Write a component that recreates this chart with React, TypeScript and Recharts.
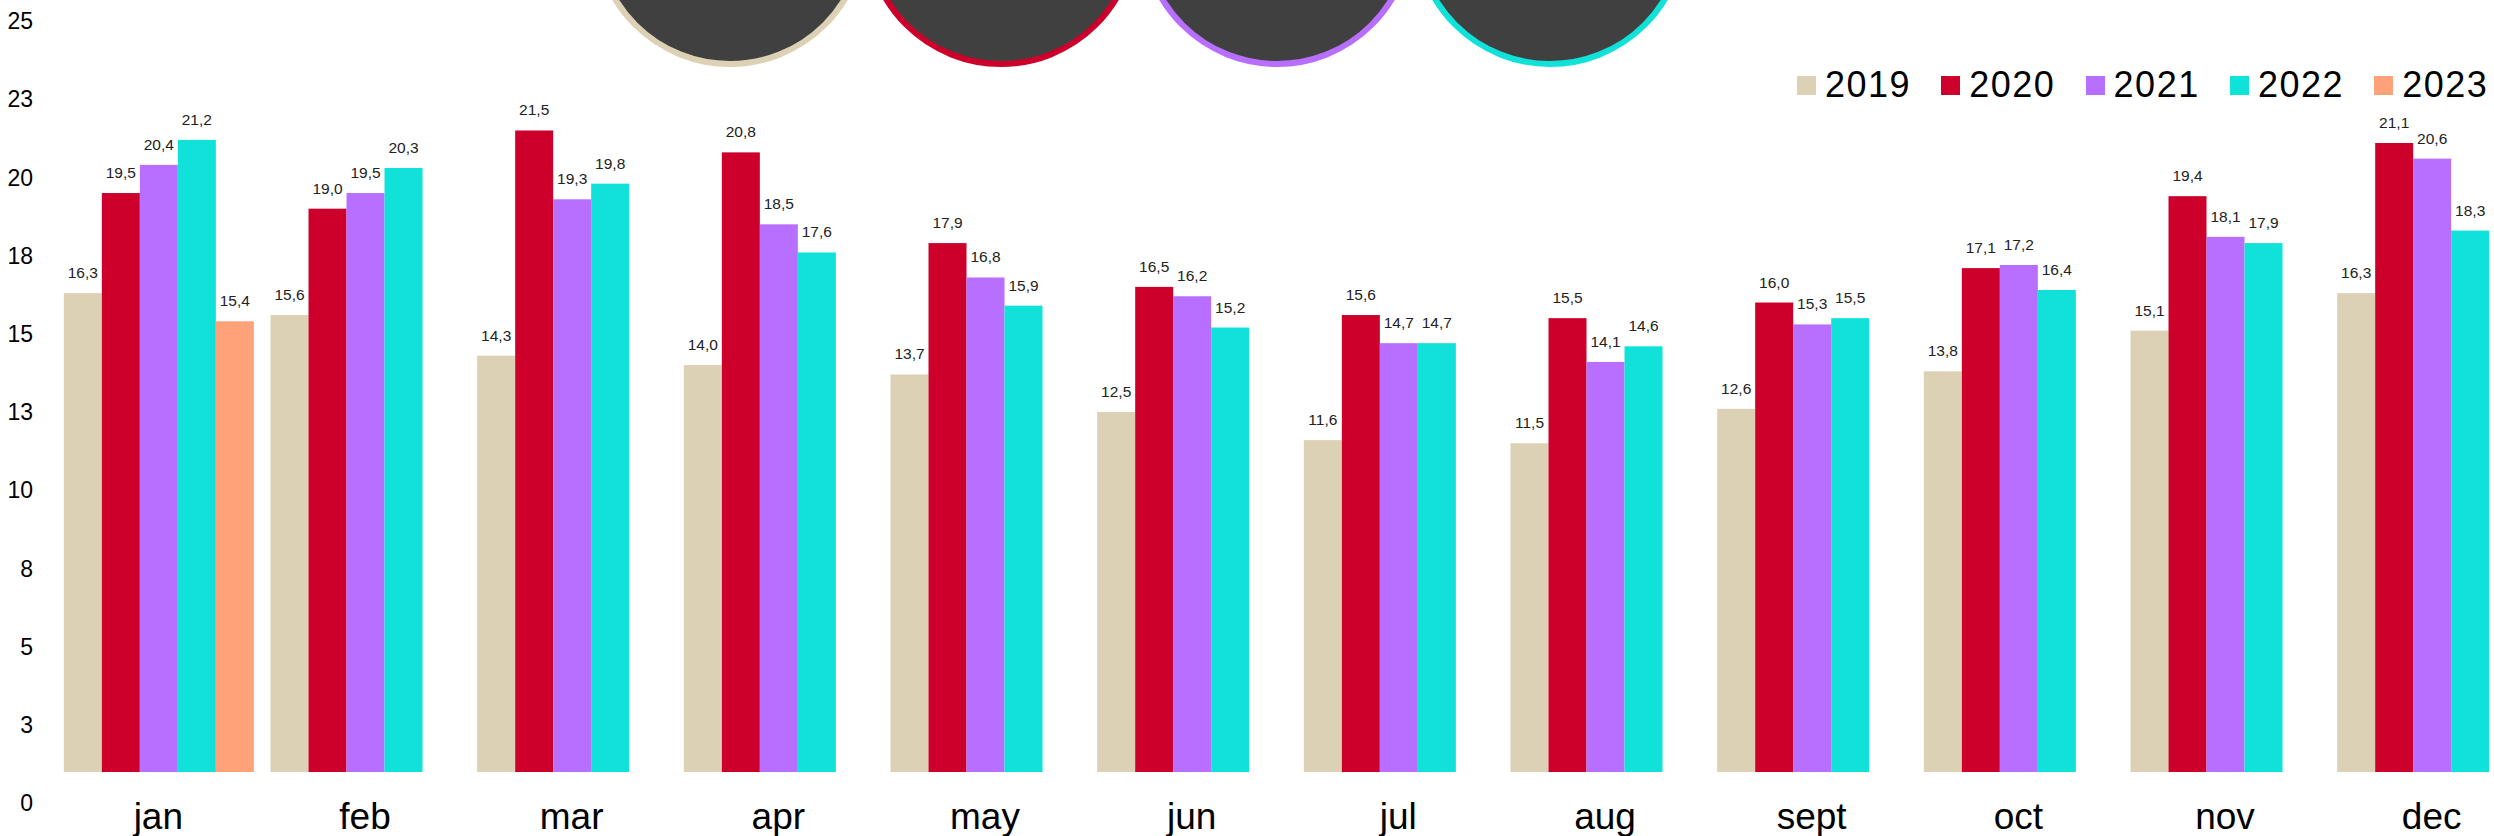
import { Bar, BarChart, LabelList, Legend, XAxis, YAxis } from 'recharts';

// months on the x axis
const months = ['jan', 'feb', 'mar', 'apr', 'may', 'jun', 'jul', 'aug', 'sept', 'oct', 'nov', 'dec'];
const years = ['2019', '2020', '2021', '2022', '2023'];

const values2019 = [16.3, 15.6, 14.3, 14.0, 13.7, 12.5, 11.6, 11.5, 12.6, 13.8, 15.1, 16.3];
const values2020 = [19.5, 19.0, 21.5, 20.8, 17.9, 16.5, 15.6, 15.5, 16.0, 17.1, 19.4, 21.1];
const values2021 = [20.4, 19.5, 19.3, 18.5, 16.8, 16.2, 14.7, 14.1, 15.3, 17.2, 18.1, 20.6];
const values2022 = [21.2, 20.3, 19.8, 17.6, 15.9, 15.2, 14.7, 14.6, 15.5, 16.4, 17.9, 18.3];
const values2023 = [15.4, null, null, null, null, null, null, null, null, null, null, null];

const yTicks = [0, 2.5, 5, 7.5, 10, 12.5, 15, 17.5, 20, 22.5, 25];

const colors = ['#DCD1B4', '#CC002B', '#B86EFF', '#10E1D9', '#FFA27A'];
const FONT = '"Liberation Sans", Arial, sans-serif';

const seriesValues = [values2019, values2020, values2021, values2022, values2023];

const data = months.map((m, i) => {
  const row: Record<string, string | number | null> = { month: m };
  years.forEach((y, k) => {
    row[y] = seriesValues[k][i];
  });
  return row;
});

// decorative badges peeking in from the top edge
const badgeCenters = [730, 1001, 1277, 1550];
const badgeColors = colors.slice(0, 4);

// bars stop short of the baseline in the original
const CUT = 31;
const CutBar = (props: any) => {
  const { x, y, width, height, fill } = props;
  const h = height - CUT;
  if (!(h > 0)) return <g />;
  return <rect x={x} y={y} width={width} height={h} fill={fill} />;
};

const fmt = (v: any) => (v === null || v === undefined ? '' : Number(v).toFixed(1).replace('.', ','));

const YearLegend = () => (
  <div style={{ display: 'flex', alignItems: 'center', height: 38, fontFamily: FONT, fontSize: 36, color: '#000' }}>
    {years.map((y, i) => (
      <div key={y} style={{ display: 'flex', alignItems: 'center', width: i < years.length - 1 ? 144.3 : 'auto' }}>
        <span style={{ display: 'inline-block', width: 19, height: 19, background: colors[i], marginRight: 9 }} />
        <span style={{ letterSpacing: 1.5 }}>{y}</span>
      </div>
    ))}
  </div>
);

export default function App() {
  return (
    <div style={{ position: 'absolute', left: 0, top: 0, width: 2494, height: 836, overflow: 'hidden', background: '#fff' }}>
      <BarChart
        width={2540}
        height={836}
        data={data}
        margin={{ top: 21, right: 5, bottom: 0, left: 0 }}
        barCategoryGap="4.28%"
        barGap={0}
      >
        <XAxis
          dataKey="month"
          axisLine={false}
          tickLine={false}
          tickSize={0}
          tickMargin={0}
          height={33}
          interval={0}
          tick={{ fill: '#000', fontSize: 37, fontFamily: FONT }}
        />
        <YAxis
          domain={[0, 25]}
          ticks={yTicks}
          axisLine={false}
          tickLine={false}
          tickSize={0}
          tickMargin={22}
          width={55}
          tickFormatter={(v: number) => String(Math.round(v))}
          tick={{ fill: '#000', fontSize: 23, fontFamily: FONT }}
        />
        <Legend
          layout="horizontal"
          verticalAlign="middle"
          align="center"
          content={<YearLegend />}
          wrapperStyle={{ position: 'absolute', top: 66, left: 1797, width: 'auto', height: 38 }}
        />
        {years.map((y, i) => (
          <Bar key={y} dataKey={y} name={y} fill={colors[i]} shape={CutBar} isAnimationActive={false}>
            <LabelList
              dataKey={y}
              position="top"
              offset={15}
              formatter={fmt}
              style={{ fill: '#222', fontSize: 15.5, fontFamily: FONT }}
            />
          </Bar>
        ))}
      </BarChart>
      <svg width={2494} height={100} style={{ position: 'absolute', left: 0, top: 0, pointerEvents: 'none' }}>
        {badgeCenters.map((cx, i) => (
          <circle key={cx} cx={cx} cy={-70} r={134} fill="#404040" stroke={badgeColors[i]} strokeWidth={6} />
        ))}
      </svg>
    </div>
  );
}
